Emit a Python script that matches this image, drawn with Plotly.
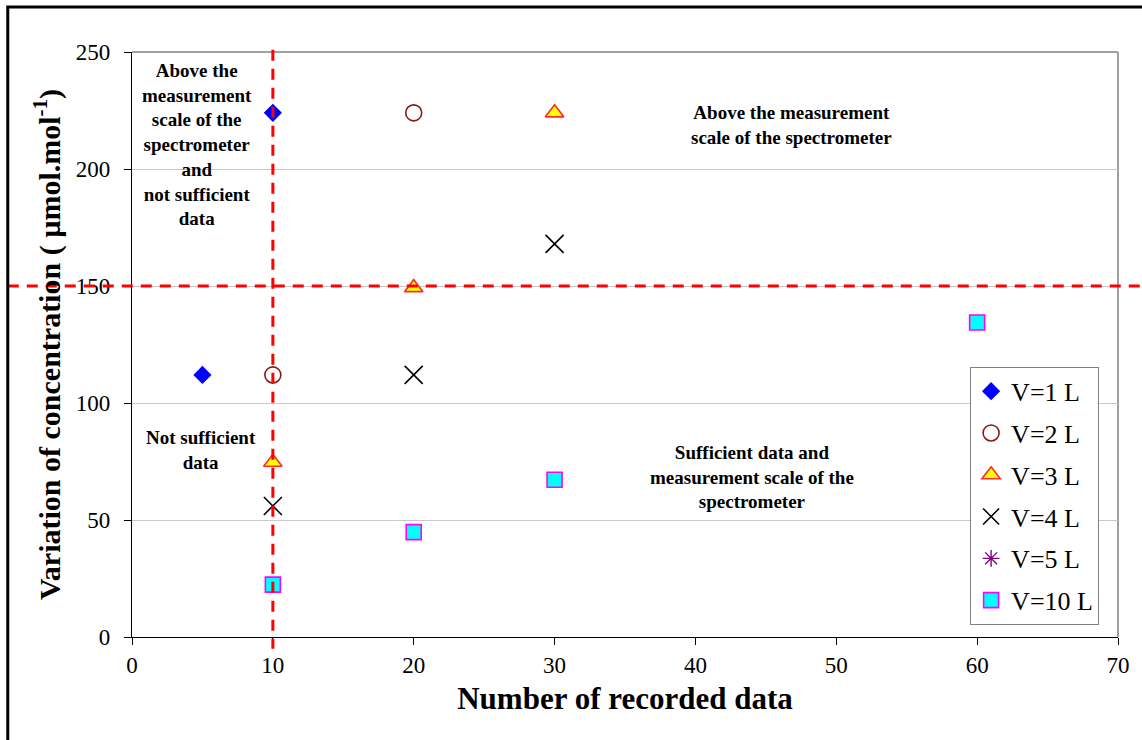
import plotly.graph_objects as go

# Number of recorded data (x) vs. variation of concentration (y), per sampling volume
v1_x = [5, 10]
v1_y = [112, 224]
v2_x = [10, 20]
v2_y = [112, 224]
v3_x = [10, 20, 30]
v3_y = [74.7, 149.3, 224]
v4_x = [10, 20, 30]
v4_y = [56, 112, 168]
v5_x = [None]
v5_y = [None]
v10_x = [10, 20, 30, 60]
v10_y = [22.4, 44.8, 67.2, 134.4]

# Threshold limits
min_records = 10
max_scale = 150

x_ticks = [0, 10, 20, 30, 40, 50, 60, 70]
y_ticks = [0, 50, 100, 150, 200, 250]

SERIF = "Liberation Serif, Times New Roman, serif"

fig = go.Figure()

series = [
    ("V=1 L", v1_x, v1_y, dict(symbol="diamond", size=14, color="#0000ff",
                               line=dict(width=0))),
    ("V=2 L", v2_x, v2_y, dict(symbol="circle-open", size=16, color="#8b1a1a",
                               line=dict(width=1.6, color="#8b1a1a"))),
    ("V=3 L", v3_x, v3_y, dict(symbol="triangle-up", size=16, color="#ffff00",
                               line=dict(width=1.6, color="#ff2a2a"))),
    ("V=4 L", v4_x, v4_y, dict(symbol="x-thin", size=18, color="#000000",
                               line=dict(width=1.6, color="#000000"))),
    ("V=5 L", v5_x, v5_y, dict(symbol="asterisk", size=14, color="#800080",
                               line=dict(width=1.4, color="#800080"))),
    ("V=10 L", v10_x, v10_y, dict(symbol="square", size=15, color="#00ffff",
                                  line=dict(width=1.6, color="#ff00ff"))),
]

for i, (name, xs, ys, mk) in enumerate(series):
    fig.add_trace(go.Scatter(x=xs, y=ys, mode="markers", name=name,
                             marker=mk, legendgroup=f"g{i}",
                             showlegend=True))

# Dashed threshold lines
dash_line = dict(color="#ff0000", width=3, dash="11px,8px")
fig.add_shape(type="line", xref="x", yref="paper",
              x0=min_records, x1=min_records, y0=1.004, y1=-0.02,
              line=dash_line, layer="above")
fig.add_shape(type="line", xref="paper", yref="y",
              x0=-0.126, x1=1.03, y0=max_scale, y1=max_scale,
              line=dash_line, layer="above")

# Outer frame
fig.add_shape(type="rect", xref="paper", yref="paper",
              x0=-0.126, x1=1.03, y0=-0.19, y1=1.077,
              line=dict(color="#000000", width=3), layer="above")

ann_font = dict(family=SERIF, size=19, color="#000000")
notes = [
    (4.6, 210.5, "<b>Above the<br>measurement<br>scale of the<br>spectrometer<br>and<br>not sufficient<br>data</b>"),
    (46.8, 219, "<b>Above the measurement<br>scale of the spectrometer</b>"),
    (4.9, 80, "<b>Not sufficient<br>data</b>"),
    (44.0, 68.5, "<b>Sufficient data and<br>measurement scale of the<br>spectrometer</b>"),
]
for x, y, t in notes:
    fig.add_annotation(x=x, y=y, xref="x", yref="y", text=t, showarrow=False,
                       font=ann_font, align="center")

fig.update_layout(
    width=1142, height=740,
    margin=dict(l=132, r=18, t=52, b=103),
    paper_bgcolor="white", plot_bgcolor="white",
    font=dict(family=SERIF, color="#000000"),
    showlegend=True,
    legend=dict(x=0.85, y=0.462, xanchor="left", yanchor="top",
                bgcolor="white", bordercolor="#808080", borderwidth=1,
                font=dict(family=SERIF, size=26, color="#000000"),
                tracegroupgap=5, itemsizing="trace"),
    xaxis=dict(range=[0, 70], tickvals=x_ticks, showgrid=False, zeroline=False,
               showline=True, linecolor="#000000", linewidth=1.2,
               ticks="outside", ticklen=7, tickcolor="#000000",
               tickfont=dict(family=SERIF, size=23, color="#000000"),
               title=dict(text="<b>Number of recorded data</b>",
                          font=dict(family=SERIF, size=31, color="#000000"),
                          standoff=10),
               mirror=False),
    yaxis=dict(range=[0, 250], tickvals=y_ticks, showgrid=True,
               gridcolor="#c8c8c8", gridwidth=1, zeroline=False,
               showline=True, linecolor="#000000", linewidth=1.2,
               ticks="outside", ticklen=7, tickcolor="#000000",
               tickfont=dict(family=SERIF, size=23, color="#000000"),
               ticklabelstandoff=9,
               title=dict(text="<b>Variation of concentration ( µmol.mol<sup>-1</sup>)</b>",
                          font=dict(family=SERIF, size=30, color="#000000"),
                          standoff=6)),
)

# Gray plot-area border on top and right
fig.add_shape(type="line", xref="paper", yref="paper", x0=0, x1=1, y0=1, y1=1,
              line=dict(color="#a0a0a0", width=2), layer="below")
fig.add_shape(type="line", xref="paper", yref="paper", x0=1, x1=1, y0=0, y1=1,
              line=dict(color="#a0a0a0", width=2), layer="below")

fig.write_html("out.html")
